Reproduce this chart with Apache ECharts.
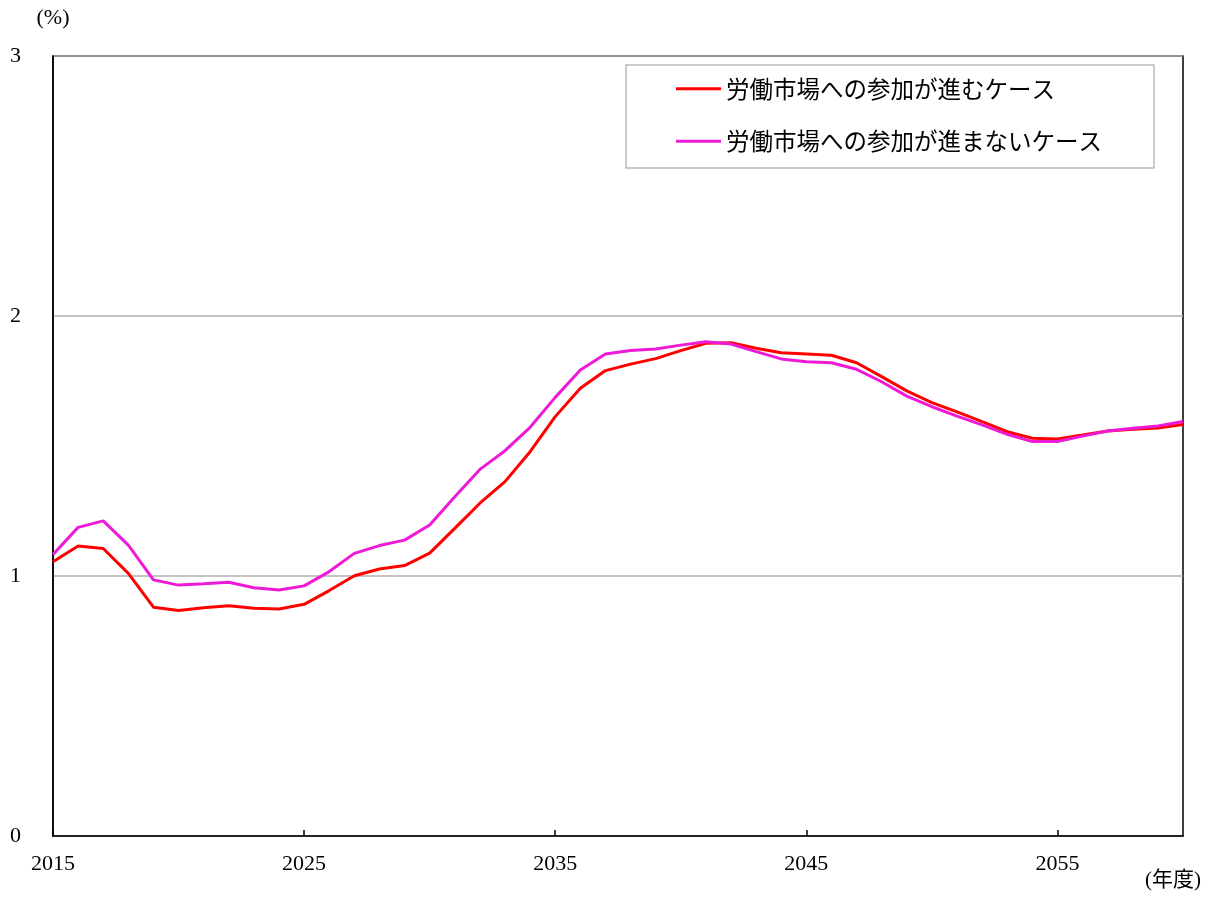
<!DOCTYPE html>
<html>
<head>
<meta charset="utf-8">
<script src="https://cdn.jsdelivr.net/npm/echarts@6/dist/echarts.min.js"></script>
<style>
  html, body { margin: 0; padding: 0; background: #fff; }
  #main { width: 1212px; height: 898px; }
</style>
</head>
<body>
<div id="main"></div>
<script>
// 年度 2015〜2060
var years = [];
for (var y = 2015; y <= 2060; y++) years.push(String(y));

var seriesNames = ['労働市場への参加が進むケース', '労働市場への参加が進まないケース'];

// 労働市場への参加が進むケース
var advance = [
  1.055, 1.115, 1.106, 1.010, 0.880, 0.867, 0.878, 0.886, 0.876, 0.873,
  0.891, 0.944, 1.001, 1.027, 1.040, 1.088, 1.183, 1.280, 1.363, 1.478,
  1.613, 1.722, 1.790, 1.815, 1.836, 1.867, 1.895, 1.897, 1.876, 1.859,
  1.854, 1.849, 1.820, 1.767, 1.712, 1.667, 1.631, 1.594, 1.555, 1.530,
  1.527, 1.542, 1.558, 1.564, 1.569, 1.583
];

// 労働市場への参加が進まないケース
var noAdvance = [
  1.083, 1.187, 1.212, 1.119, 0.985, 0.965, 0.970, 0.976, 0.955, 0.946,
  0.962, 1.017, 1.087, 1.117, 1.138, 1.196, 1.305, 1.410, 1.482, 1.572,
  1.687, 1.792, 1.854, 1.867, 1.873, 1.888, 1.901, 1.892, 1.863, 1.835,
  1.824, 1.820, 1.795, 1.747, 1.692, 1.651, 1.615, 1.581, 1.545, 1.517,
  1.517, 1.538, 1.558, 1.568, 1.577, 1.594
];

var serif = '"Liberation Serif", "DejaVu Serif", "Noto Sans CJK JP", serif';
var gothic = '"Noto Sans CJK JP", sans-serif';

var option = {
  backgroundColor: '#fff',
  animation: false,
  grid: {
    left: 53,
    right: 29,
    top: 56,
    bottom: 62,
    show: true,
    borderColor: '#000',
    borderWidth: 1.5
  },
  legend: {
    orient: 'vertical',
    left: 626,
    top: 65,
    padding: [12, 52, 15, 50],
    itemGap: 29,
    itemWidth: 45,
    itemHeight: 3,
    icon: 'rect',
    backgroundColor: '#fff',
    borderColor: '#bbb',
    borderWidth: 1.5,
    textStyle: { fontFamily: gothic, fontSize: 23.5, color: '#000' },
    data: seriesNames
  },
  xAxis: {
    type: 'category',
    data: years,
    boundaryGap: false,
    axisLine: { lineStyle: { color: '#000', width: 1.5 } },
    axisTick: { inside: true, interval: 9, length: 6, lineStyle: { color: '#000', width: 1.5 } },
    axisLabel: { interval: 9, margin: 17, fontFamily: serif, fontSize: 22, color: '#000' },
    splitLine: { show: false }
  },
  yAxis: {
    type: 'value',
    min: 0,
    max: 3,
    interval: 1,
    name: '(%)',
    nameLocation: 'end',
    nameGap: 27,
    nameTextStyle: { fontFamily: serif, fontSize: 22, color: '#000', align: 'center' },
    axisLine: { show: true, lineStyle: { color: '#000', width: 1.5 } },
    axisTick: { show: false },
    axisLabel: { margin: 32, fontFamily: serif, fontSize: 22, color: '#000' },
    splitLine: { lineStyle: { color: '#b0b0b0', width: 1.5 } }
  },
  graphic: [{
    type: 'text',
    right: 11,
    top: 870,
    style: { text: '(年度)', font: '21px ' + serif, fill: '#000' }
  }],
  series: [
    {
      name: seriesNames[0],
      type: 'line',
      data: advance,
      symbol: 'none',
      lineStyle: { color: '#ff0000', width: 3 },
      itemStyle: { color: '#ff0000' }
    },
    {
      name: seriesNames[1],
      type: 'line',
      data: noAdvance,
      symbol: 'none',
      lineStyle: { color: '#ee1ad8', width: 3 },
      itemStyle: { color: '#ee1ad8' }
    }
  ]
};

var myChart = echarts.init(document.getElementById('main'));
myChart.setOption(option);
</script>
</body>
</html>
